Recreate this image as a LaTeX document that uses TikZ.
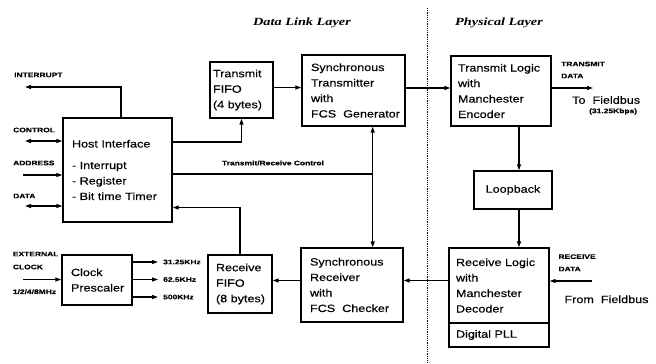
\documentclass[tikz,border=0pt]{standalone}
\usepackage{fontspec}
\setmainfont{Liberation Sans}[FakeStretch=1.2,FakeBold=0.4]
\newfontfamily\lblfont{Liberation Sans}[FakeStretch=1.3,FakeBold=0.3]
\newfontfamily\ttlfont{Liberation Serif}[FakeStretch=1.3]
\usetikzlibrary{arrows.meta,calc}
\hfuzz=60pt
\hbadness=10000
\newcommand{\bxline}[1]{\mbox{#1}}
\tikzset{
 box/.style={draw, line width=1.4pt, align=left, inner ysep=0pt, font=\fontsize{10.5}{15.5}\selectfont},
 lbl/.style={inner sep=0pt, anchor=west, font=\lblfont\bfseries\fontsize{6.5}{7}\selectfont},
 maintxt/.style={inner sep=0pt, anchor=west, font=\fontsize{10.5}{12}\selectfont},
 ttl/.style={inner sep=0pt, font=\ttlfont\bfseries\itshape\fontsize{11}{13}\selectfont},
 conn/.style={line width=1.2pt},
 arr/.style={conn, -{Triangle[length=6pt,width=4pt]}},
 darr/.style={conn, {Triangle[length=6pt,width=4pt]}-{Triangle[length=6pt,width=4pt]}},
 divider/.style={line width=1.2pt, dash pattern=on 1.2pt off 1pt},
}
\begin{document}
\begin{tikzpicture}[x=1pt,y=-1pt]
\useasboundingbox (0,0) rectangle (656,364);
% boxes
\node[box, text width=91pt, inner xsep=9pt, minimum height=104pt] (host) at (117.5,170)
  {\bxline{Host Interface}\\[6pt] \bxline{- Interrupt}\\ \bxline{- Register}\\ \bxline{- Bit time Timer}};
\node[box, text width=52pt, inner xsep=9pt, minimum height=50pt] (clk) at (97,280)
  {Clock\\ \bxline{Prescaler}};
\node[box, text width=57pt, inner xsep=3pt, minimum height=56pt] (txfifo) at (241.5,90)
  {\bxline{Transmit}\\ FIFO\\ \bxline{(4 bytes)}};
\node[box, text width=48pt, inner xsep=8pt, minimum height=58pt] (rxfifo) at (240,284)
  {\bxline{Receive}\\ FIFO\\ \bxline{(8 bytes)}};
\node[box, text width=85pt, inner xsep=9pt, minimum height=71pt] (synctx) at (353.5,90.5)
  {\bxline{Synchronous}\\ \bxline{Transmitter}\\ with\\ \bxline{FCS\ \ Generator}};
\node[box, text width=84pt, inner xsep=9pt, minimum height=74pt] (syncrx) at (352,285)
  {\bxline{Synchronous}\\ \bxline{Receiver}\\ with\\ \bxline{FCS\ \ Checker}};
\node[box, text width=86pt, inner xsep=7pt, minimum height=70pt] (txlogic) at (501,91)
  {\bxline{Transmit Logic}\\ with\\ \bxline{Manchester}\\ \bxline{Encoder}};
\node[box, text width=70pt, inner xsep=4pt, minimum height=38pt, align=center] (loop) at (513,190)
  {Loopback};
\node[box, text width=86pt, inner xsep=7pt, minimum height=75pt] (rxlogic) at (499,285.5)
  {\bxline{Receive Logic}\\ with\\ \bxline{Manchester}\\ \bxline{Decoder}};
\node[box, text width=86pt, inner xsep=7pt, minimum height=24pt] (pll) at (499,335)
  {\bxline{Digital PLL}};
% titles
\node[ttl] (dll) at (302,23) {Data Link Layer};
\node[ttl] (phl) at (499,23) {Physical Layer};
% divider
\coordinate (dv1) at (427.5,8);
\coordinate (dv2) at (427.5,364);
\draw[divider] (dv1) -- (dv2);
% helper coordinates
\coordinate (xint) at (121,0);
\coordinate (intend) at (25,87);
\coordinate (ctlend) at (25,141);
\coordinate (addend) at (23,175);
\coordinate (datend) at (25,206);
\coordinate (ytx) at (0,142);
\coordinate (ytrc) at (0,174);
\coordinate (trx) at (372.7,0);
\coordinate (yrx) at (0,207.5);
\coordinate (ytop) at (0,87.5);
\coordinate (ytop2) at (0,88);
\coordinate (txout) at (593,88);
\coordinate (vx) at (519,0);
\coordinate (rxin) at (592,281);
\coordinate (ybot) at (0,280.5);
\coordinate (clkin) at (23,279.5);
\coordinate (o1) at (158,262);
\coordinate (o2) at (158,279.5);
\coordinate (o3) at (158,297);
% connectors
\draw[arr] (host.north -| xint) |- (intend);
\draw[darr] (ctlend) -- (host.west |- ctlend);
\draw[arr] (addend) -- (host.west |- addend);
\draw[darr] (datend) -- (host.west |- datend);
\draw[arr] (host.east |- ytx) -| (txfifo.south);
\draw[conn] (host.east |- ytrc) -- (trx |- ytrc);
\draw[darr] (synctx.south -| trx) -- (syncrx.north -| trx);
\draw[arr] (rxfifo.north) |- (host.east |- yrx);
\draw[arr] (txfifo.east |- ytop) -- (synctx.west |- ytop);
\draw[arr] (synctx.east |- ytop2) -- (txlogic.west |- ytop2);
\draw[arr] (txlogic.east |- txout) -- (txout);
\draw[arr] (txlogic.south -| vx) -- (loop.north -| vx);
\draw[arr] (loop.south -| vx) -- (rxlogic.north -| vx);
\draw[arr] (rxin) -- (rxlogic.east |- rxin);
\draw[arr] (rxlogic.west |- ybot) -- (syncrx.east |- ybot);
\draw[arr] (syncrx.west |- ybot) -- (rxfifo.east |- ybot);
\draw[arr] (clkin) -- (clk.west |- clkin);
\draw[arr] (clk.east |- o1) -- (o1);
\draw[arr] (clk.east |- o2) -- (o2);
\draw[arr] (clk.east |- o3) -- (o3);
% labels
\node[lbl] (linterrupt) at (14,75) {INTERRUPT};
\node[lbl] (lcontrol) at (13,130) {CONTROL};
\node[lbl] (laddress) at (13,163) {ADDRESS};
\node[lbl] (ldata) at (13,196) {DATA};
\node[lbl] (lext) at (12.7,254) {EXTERNAL};
\node[lbl] (lclock) at (12.7,267) {CLOCK};
\node[lbl] (lmhz) at (12.7,291.7) {1/2/4/8MHz};
\node[lbl] (lk1) at (163,262) {31.25KHz};
\node[lbl] (lk2) at (163,279.5) {62.5KHz};
\node[lbl] (lk3) at (163,297) {500KHz};
\node[lbl, anchor=center] (ltrc) at (273,163) {Transmit/Receive Control};
\node[lbl] (ltx1) at (561,64) {TRANSMIT};
\node[lbl] (ltx2) at (561,76) {DATA};
\node[maintxt] (ltof) at (572,100) {To\ \ Fieldbus};
\node[lbl] (lkbps) at (589,111.5) {(31.25Kbps)};
\node[lbl] (lrx1) at (558.3,256.7) {RECEIVE};
\node[lbl] (lrx2) at (558.3,269) {DATA};
\node[maintxt] (lfromf) at (564.3,299.3) {From\ \ Fieldbus};
\end{tikzpicture}
\end{document}
